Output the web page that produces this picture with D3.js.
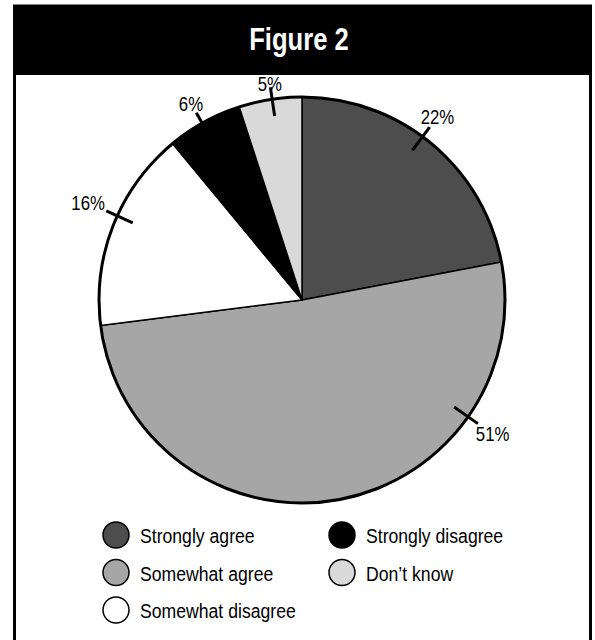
<!DOCTYPE html>
<html>
<head>
<meta charset="utf-8">
<script src="https://cdn.jsdelivr.net/npm/d3@7"></script>
<style>
  body { margin: 0; background: #fff; }
  svg text { font-family: "Liberation Sans", Arial, sans-serif; }
</style>
</head>
<body>
<div id="chart"></div>
<script>
// data
var categories = ['Strongly agree', 'Somewhat agree', 'Somewhat disagree', 'Strongly disagree', 'Don\u2019t know'];
var values = [22, 51, 16, 6, 5];
var colors = ['#4d4d4d', '#a6a6a6', '#ffffff', '#000000', '#d9d9d9'];
var title = 'Figure 2';

var width = 595, height = 640;
var cx = 302, cy = 300, radius = 203;
// where along each slice the label tick sits (0 = start, 1 = end)
var labelAt = [0.46, 0.25, 0.55, 0.47, 0.53];
var narrow = 0.84; // fake a condensed face

var svg = d3.select('#chart').append('svg')
  .attr('width', width)
  .attr('height', height);

// frame + title bar
svg.append('rect')
  .attr('x', 14.5).attr('y', 6)
  .attr('width', 576).attr('height', 660)
  .attr('fill', '#fff').attr('stroke', '#000').attr('stroke-width', 3);
svg.append('rect')
  .attr('x', 13).attr('y', 6)
  .attr('width', 579).attr('height', 69)
  .attr('fill', '#000');
svg.append('text')
  .attr('transform', 'translate(299,50) scale(0.8,1)')
  .attr('text-anchor', 'middle')
  .attr('fill', '#fff')
  .style('font-size', '32px')
  .style('font-weight', 'bold')
  .text(title);

var data = categories.map(function(c, i) { return {label: c, value: values[i], color: colors[i]}; });

var pie = d3.pie().value(function(d) { return d.value; }).sort(null);
var arc = d3.arc().innerRadius(0).outerRadius(radius);

var g = svg.append('g').attr('transform', 'translate(' + cx + ',' + cy + ')');

var arcs = pie(data);
g.selectAll('path.slice')
  .data(arcs)
  .enter()
  .append('path')
  .attr('class', 'slice')
  .attr('d', arc)
  .attr('fill', function(d) { return d.data.color; })
  .attr('stroke', '#000')
  .attr('stroke-width', 1.5)
  .attr('stroke-linejoin', 'round');

g.append('circle')
  .attr('r', radius)
  .attr('fill', 'none')
  .attr('stroke', '#000')
  .attr('stroke-width', 3);

// ticks and labels
arcs.forEach(function(d, i) {
  var a = d.startAngle + (d.endAngle - d.startAngle) * labelAt[i];
  var s = Math.sin(a), c = -Math.cos(a);
  g.append('line')
    .attr('x1', s * (radius - 17)).attr('y1', c * (radius - 17))
    .attr('x2', s * (radius + 12)).attr('y2', c * (radius + 12))
    .attr('stroke', '#000').attr('stroke-width', 3);
  var r = 215 + 22 * Math.abs(s);
  g.append('text')
    .attr('transform', 'translate(' + (s * r) + ',' + (c * r) + ') scale(' + narrow + ',1)')
    .attr('text-anchor', 'middle')
    .attr('dy', '0.36em')
    .style('font-size', '20px')
    .attr('fill', '#000')
    .text(d.data.value + '%');
});

// legend
var legendCols = [116, 342], legendRows = [535, 572.5, 610];
var legend = svg.selectAll('.legend')
  .data(data)
  .enter()
  .append('g')
  .attr('class', 'legend')
  .attr('transform', function(d, i) {
    var order = [[0, 0], [0, 1], [0, 2], [1, 0], [1, 1]][i];
    return 'translate(' + legendCols[order[0]] + ',' + legendRows[order[1]] + ')';
  });
legend.append('circle')
  .attr('r', 13)
  .attr('fill', function(d) { return d.color; })
  .attr('stroke', '#000')
  .attr('stroke-width', 1.5);
legend.append('text')
  .attr('transform', 'translate(24,8) scale(' + narrow + ',1)')
  .style('font-size', '21px')
  .text(function(d) { return d.label; });
</script>
</body>
</html>
